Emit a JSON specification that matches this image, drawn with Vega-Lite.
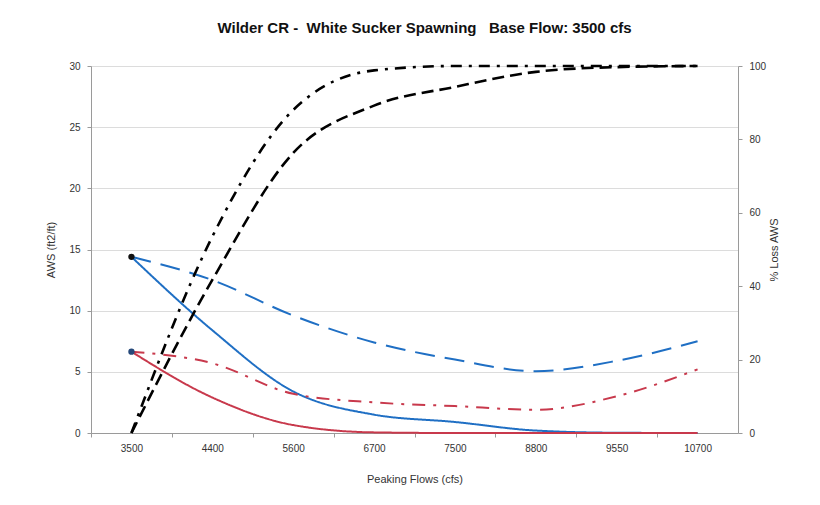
{
  "$schema": "https://vega.github.io/schema/vega-lite/v6.json",
  "width": 647,
  "height": 367,
  "autosize": {"type": "none"},
  "padding": {"left": 91, "top": 66, "right": 82, "bottom": 72},
  "background": "white",
  "config": {
    "font": "Liberation Sans",
    "view": {"stroke": null},
    "axis": {
      "labelFont": "Liberation Sans",
      "titleFont": "Liberation Sans",
      "labelFontSize": 10,
      "titleFontSize": 11,
      "titleFontWeight": "normal",
      "labelColor": "#333333",
      "titleColor": "#333333",
      "domainColor": "#9a9a9a",
      "tickColor": "#9a9a9a",
      "tickSize": 4
    }
  },
  "title": {
    "text": "Wilder CR -\u00a0\u00a0White Sucker Spawning\u00a0\u00a0\u00a0Base Flow: 3500 cfs",
    "font": "Liberation Sans",
    "fontSize": 15,
    "fontWeight": "bold",
    "color": "#111111",
    "anchor": "middle",
    "dx": 10,
    "offset": 25
  },
  "data": {
    "values": [
      {"flow": 3500, "series": "AWS A", "group": "AWS", "value": 14.4},
      {"flow": 4400, "series": "AWS A", "group": "AWS", "value": 8.4},
      {"flow": 5600, "series": "AWS A", "group": "AWS", "value": 3.4},
      {"flow": 6700, "series": "AWS A", "group": "AWS", "value": 1.5},
      {"flow": 7500, "series": "AWS A", "group": "AWS", "value": 0.9},
      {"flow": 8800, "series": "AWS A", "group": "AWS", "value": 0.2},
      {"flow": 9550, "series": "AWS A", "group": "AWS", "value": 0.02},
      {"flow": 10700, "series": "AWS A", "group": "AWS", "value": 0},
      {"flow": 3500, "series": "AWS B", "group": "AWS", "value": 14.4},
      {"flow": 4400, "series": "AWS B", "group": "AWS", "value": 12.5},
      {"flow": 5600, "series": "AWS B", "group": "AWS", "value": 9.6},
      {"flow": 6700, "series": "AWS B", "group": "AWS", "value": 7.4},
      {"flow": 7500, "series": "AWS B", "group": "AWS", "value": 6.0},
      {"flow": 8800, "series": "AWS B", "group": "AWS", "value": 5.05},
      {"flow": 9550, "series": "AWS B", "group": "AWS", "value": 5.9},
      {"flow": 10700, "series": "AWS B", "group": "AWS", "value": 7.5},
      {"flow": 3500, "series": "AWS C", "group": "AWS", "value": 6.65},
      {"flow": 4400, "series": "AWS C", "group": "AWS", "value": 2.9},
      {"flow": 5600, "series": "AWS C", "group": "AWS", "value": 0.65},
      {"flow": 6700, "series": "AWS C", "group": "AWS", "value": 0.05},
      {"flow": 7500, "series": "AWS C", "group": "AWS", "value": 0},
      {"flow": 8800, "series": "AWS C", "group": "AWS", "value": 0},
      {"flow": 9550, "series": "AWS C", "group": "AWS", "value": 0},
      {"flow": 10700, "series": "AWS C", "group": "AWS", "value": 0},
      {"flow": 3500, "series": "AWS D", "group": "AWS", "value": 6.65},
      {"flow": 4400, "series": "AWS D", "group": "AWS", "value": 5.7},
      {"flow": 5600, "series": "AWS D", "group": "AWS", "value": 3.2},
      {"flow": 6700, "series": "AWS D", "group": "AWS", "value": 2.5},
      {"flow": 7500, "series": "AWS D", "group": "AWS", "value": 2.2},
      {"flow": 8800, "series": "AWS D", "group": "AWS", "value": 1.9},
      {"flow": 9550, "series": "AWS D", "group": "AWS", "value": 3.0},
      {"flow": 10700, "series": "AWS D", "group": "AWS", "value": 5.2},
      {"flow": 3500, "series": "% Loss A", "group": "Loss", "value": 0},
      {"flow": 4400, "series": "% Loss A", "group": "Loss", "value": 53.5},
      {"flow": 5600, "series": "% Loss A", "group": "Loss", "value": 88},
      {"flow": 6700, "series": "% Loss A", "group": "Loss", "value": 98.8},
      {"flow": 7500, "series": "% Loss A", "group": "Loss", "value": 100},
      {"flow": 8800, "series": "% Loss A", "group": "Loss", "value": 100},
      {"flow": 9550, "series": "% Loss A", "group": "Loss", "value": 100},
      {"flow": 10700, "series": "% Loss A", "group": "Loss", "value": 100},
      {"flow": 3500, "series": "% Loss B", "group": "Loss", "value": 0},
      {"flow": 4400, "series": "% Loss B", "group": "Loss", "value": 41.7},
      {"flow": 5600, "series": "% Loss B", "group": "Loss", "value": 76.3},
      {"flow": 6700, "series": "% Loss B", "group": "Loss", "value": 89.2},
      {"flow": 7500, "series": "% Loss B", "group": "Loss", "value": 94.3},
      {"flow": 8800, "series": "% Loss B", "group": "Loss", "value": 98.4},
      {"flow": 9550, "series": "% Loss B", "group": "Loss", "value": 99.7},
      {"flow": 10700, "series": "% Loss B", "group": "Loss", "value": 100}
    ]
  },
  "encoding": {
    "x": {
      "field": "flow",
      "type": "ordinal",
      "scale": {"type": "point", "padding": 0.5},
      "axis": {
        "title": "Peaking Flows (cfs)",
        "labelAngle": 0,
        "grid": false,
        "tickOffset": -40.4,
        "labelOffset": 40.4,
        "labelPadding": 6,
        "titlePadding": 20
      }
    }
  },
  "layer": [
    {
      "layer": [
        {
          "transform": [{"filter": "datum.group == 'AWS'"}],
          "mark": {"type": "line", "interpolate": "monotone", "strokeWidth": 2},
          "encoding": {
            "y": {
              "field": "value",
              "type": "quantitative",
              "scale": {"domain": [0, 30], "nice": false},
              "axis": {
                "title": "AWS (ft2/ft)",
                "values": [0, 5, 10, 15, 20, 25, 30],
                "grid": true,
                "gridColor": "#dcdcdc",
                "labelPadding": 7,
                "titlePadding": 12
              }
            },
            "color": {
              "field": "series",
              "type": "nominal",
              "scale": {
                "domain": ["AWS A", "AWS B", "AWS C", "AWS D"],
                "range": ["#1f6fc4", "#1f6fc4", "#c8394c", "#c8394c"]
              },
              "legend": null
            },
            "strokeDash": {
              "field": "series",
              "type": "nominal",
              "scale": {
                "domain": ["AWS A", "AWS B", "AWS C", "AWS D"],
                "range": [[1, 0], [20, 10], [1, 0], [13, 8, 3, 8]]
              },
              "legend": null
            }
          }
        },
        {
          "transform": [{"filter": "datum.series == 'AWS A' && datum.flow == 3500"}],
          "mark": {"type": "point", "filled": true, "size": 40, "color": "#111111", "opacity": 1},
          "encoding": {
            "y": {"field": "value", "type": "quantitative"}
          }
        },
        {
          "transform": [{"filter": "datum.series == 'AWS C' && datum.flow == 3500"}],
          "mark": {"type": "point", "filled": true, "size": 40, "color": "#26497a", "opacity": 1},
          "encoding": {
            "y": {"field": "value", "type": "quantitative"}
          }
        }
      ]
    },
    {
      "transform": [{"filter": "datum.group == 'Loss'"}],
      "mark": {"type": "line", "interpolate": "monotone", "strokeWidth": 2.6, "color": "#000000"},
      "encoding": {
        "y": {
          "field": "value",
          "type": "quantitative",
          "scale": {"domain": [0, 100], "nice": false},
          "axis": {
            "orient": "right",
            "title": "% Loss AWS",
            "titleAngle": 270,
            "values": [0, 20, 40, 60, 80, 100],
            "grid": false,
            "labelPadding": 7,
            "titlePadding": 14
          }
        },
        "strokeDash": {
          "field": "series",
          "type": "nominal",
          "scale": {
            "domain": ["% Loss A", "% Loss B"],
            "range": [[11, 7, 3, 7], [12, 6]]
          },
          "legend": null
        }
      }
    }
  ],
  "resolve": {"scale": {"y": "independent", "strokeDash": "independent", "color": "independent"}}
}
